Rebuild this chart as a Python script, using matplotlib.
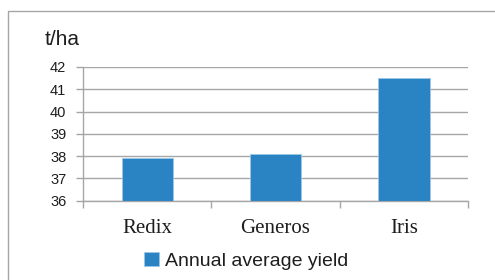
import matplotlib.pyplot as plt
from matplotlib.patches import Rectangle

varieties = ['Redix', 'Generos', 'Iris']
yield_values = [37.9, 38.1, 41.5]
y_ticks = [36, 37, 38, 39, 40, 41, 42]
series_name = 'Annual average yield'
unit = 't/ha'

grey = '#a6a6a6'
blue = '#2a83c3'
txt = '#1e1e1e'

fig = plt.figure(figsize=(4.95, 2.8), dpi=100)
W, H = 495, 280

# outer chart border (runs off the right and bottom edge)
fig.add_artist(Rectangle((8 / W, -0.1), 1.0, (H - 11) / H + 0.1, transform=fig.transFigure,
                         fill=False, edgecolor=grey, lw=1.0))

ax = fig.add_axes([83 / W, 1 - 200.7 / H, (468 - 83) / W, (200.7 - 67) / H])
x = range(len(varieties))
ax.bar(x, [v - 36 for v in yield_values], bottom=36, width=0.4, color=blue,
       edgecolor='#9cc8e8', linewidth=0.6, zorder=3, label=series_name)

ax.set_xlim(-0.5, 2.5)
ax.set_ylim(36, 42)
ax.set_yticks(y_ticks)
ax.set_yticklabels([str(t) for t in y_ticks], fontsize=10.5, family='Liberation Sans', color=txt)
ax.yaxis.grid(True, color=grey, lw=1.0, zorder=0)
ax.tick_params(axis='y', length=5, color=grey, width=1.0, pad=7)

ax.set_xticks([-0.5, 0.5, 1.5, 2.5])
ax.set_xticklabels([])
ax.tick_params(axis='x', length=5, color=grey, width=1.0)
for i, name in enumerate(varieties):
    ax.text(i, -0.21, name, transform=ax.get_xaxis_transform(), ha='center', va='center',
            fontsize=15, family='Liberation Serif', color=txt)

for s in ['top', 'right']:
    ax.spines[s].set_visible(False)
for s in ['left', 'bottom']:
    ax.spines[s].set_color(grey)
    ax.spines[s].set_linewidth(1.0)

fig.text(45 / W, 1 - 40 / H, unit, ha='left', va='center', fontsize=15,
         family='Liberation Sans', color=txt)

fig.legend(loc='center', bbox_to_anchor=(246 / W, 1 - 261 / H), frameon=False,
           prop={'family': 'Liberation Sans', 'size': 14}, handlelength=0.75, handleheight=0.75,
           handletextpad=0.3, labelcolor=txt)

plt.savefig('out.png', dpi=100)
